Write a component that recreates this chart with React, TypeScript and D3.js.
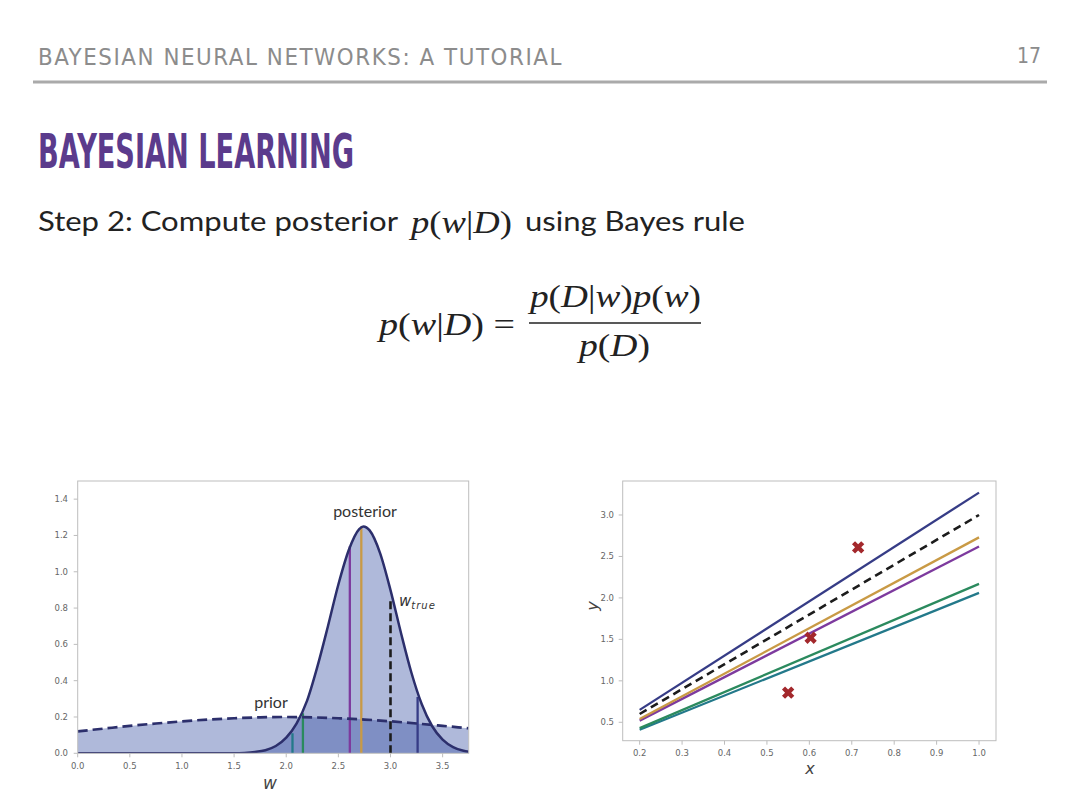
import React from "react";
import * as d3 from "d3";

// prior p(w)
const priorW = [0, 0.25, 0.5, 0.75, 1.0, 1.25, 1.5, 1.75, 2.0, 2.25, 2.5, 2.75, 3.0, 3.25, 3.5, 3.75];
const priorP = [0.121, 0.136, 0.151, 0.164, 0.176, 0.186, 0.193, 0.198, 0.2, 0.198, 0.193, 0.186, 0.176, 0.164, 0.151, 0.138];

// posterior p(w|D)
const postW = [0, 1.5, 1.6, 1.7, 1.8, 1.9, 2.0, 2.1, 2.2, 2.3, 2.4, 2.5, 2.6, 2.7, 2.74, 2.8, 2.9, 3.0, 3.1, 3.2, 3.3, 3.4, 3.5, 3.6, 3.7, 3.75];
const postP = [0, 0, 0.002, 0.007, 0.017, 0.04, 0.086, 0.165, 0.29, 0.48, 0.7, 0.93, 1.12, 1.235, 1.25, 1.228, 1.103, 0.899, 0.664, 0.445, 0.27, 0.149, 0.075, 0.034, 0.014, 0.009];

// posterior samples (vertical lines) and their regression lines
const sampleW = [2.06, 2.16, 2.61, 2.72, 3.26];
const sampleH = [0.11, 0.22, 1.14, 1.25, 0.31];
const sampleColors = ["#23798a", "#2b8a5e", "#7d3a9e", "#c99a45", "#363c86"];
const lineStart = [0.41, 0.43, 0.52, 0.54, 0.65]; // y at x = 0.2
const lineEnd = [2.06, 2.17, 2.62, 2.73, 3.27]; // y at x = 1.0

const wTrue = 3.0;
const wTrueTop = 0.86;
const trueStart = 0.6;
const trueEnd = 3.0;

// observations
const obsX = [0.55, 0.603, 0.715];
const obsY = [0.857, 1.52, 2.61];

const leftXTicks = [0, 0.5, 1.0, 1.5, 2.0, 2.5, 3.0, 3.5];
const leftYTicks = [0, 0.2, 0.4, 0.6, 0.8, 1.0, 1.2, 1.4];
const rightXTicks = [0.2, 0.3, 0.4, 0.5, 0.6, 0.7, 0.8, 0.9, 1.0];
const rightYTicks = [0.5, 1.0, 1.5, 2.0, 2.5, 3.0];

const navy = "#2c2f6c";
const fill = "rgba(55,80,162,0.4)";
const tickColor = "#666";
const frameColor = "#bdbdbd";

const L = { left: 77.7, right: 468.7, top: 481, bottom: 753.3 };
const R = { left: 622.7, right: 996, top: 481, bottom: 740.7 };

const xl = d3.scaleLinear().domain([0, 3.75]).range([L.left, L.right]);
const yl = d3.scaleLinear().domain([0, 1.5]).range([L.bottom, L.top]);
const xr = d3.scaleLinear().domain([0.16, 1.04]).range([R.left, R.right]);
const yr = d3.scaleLinear().domain([0.278, 3.41]).range([R.bottom, R.top]);

const priorPts: [number, number][] = priorW.map((w, i) => [w, priorP[i]]);
const postPts: [number, number][] = postW.map((w, i) => [w, postP[i]]);

const areaL = d3
  .area<[number, number]>()
  .x((d) => xl(d[0]))
  .y0(yl(0))
  .y1((d) => yl(d[1]))
  .curve(d3.curveMonotoneX);
const lineL = d3
  .line<[number, number]>()
  .x((d) => xl(d[0]))
  .y((d) => yl(d[1]))
  .curve(d3.curveMonotoneX);

const cross = d3.symbol().type(d3.symbolCross).size(95)();

const tickFont = { fontFamily: "DejaVu Sans", fontSize: 8.5, fill: tickColor };

function fmt(v: number) {
  return v.toFixed(1);
}

export default function App() {
  return (
    <svg
      width={1080}
      height={810}
      style={{ position: "absolute", left: 0, top: 0, background: "#fff" }}
    >
      <defs>
        <clipPath id="clipL">
          <rect x={L.left} y={L.top} width={L.right - L.left} height={L.bottom - L.top} />
        </clipPath>
        <clipPath id="clipR">
          <rect x={R.left} y={R.top} width={R.right - R.left} height={R.bottom - R.top} />
        </clipPath>
      </defs>

      {/* slide header */}
      <text
        x={38}
        y={65}
        textLength={525}
        lengthAdjust="spacingAndGlyphs"
        style={{ fontFamily: "DejaVu Sans", fontStretch: "condensed", fontSize: 23, fill: "#8c8c8c", letterSpacing: 1.5 }}
      >
        BAYESIAN NEURAL NETWORKS: A TUTORIAL
      </text>
      <text
        x={1041}
        y={63}
        textAnchor="end"
        style={{ fontFamily: "DejaVu Sans", fontStretch: "condensed", fontSize: 21, fill: "#8c8c8c" }}
      >
        17
      </text>
      <line x1={33} x2={1047} y1={82} y2={82} stroke="#aaa" strokeWidth={3} />

      <text
        x={38}
        y={168}
        textLength={316}
        lengthAdjust="spacingAndGlyphs"
        style={{ fontFamily: "Liberation Sans Narrow, DejaVu Sans", fontWeight: 700, fontSize: 48, fill: "#5b3b8c" }}
      >
        BAYESIAN LEARNING
      </text>

      <text
        x={38}
        y={231}
        textLength={360}
        lengthAdjust="spacingAndGlyphs"
        style={{ fontFamily: "Lato", fontSize: 27, fill: "#222" }}
      >
        Step 2: Compute posterior
      </text>
      <text
        x={411}
        y={233}
        textLength={101}
        lengthAdjust="spacingAndGlyphs"
        style={{ fontFamily: "Liberation Serif", fontSize: 31, fill: "#222" }}
      >
        <tspan fontStyle="italic">p</tspan>(<tspan fontStyle="italic">w</tspan>|<tspan fontStyle="italic">D</tspan>)
      </text>
      <text
        x={525}
        y={231}
        textLength={220}
        lengthAdjust="spacingAndGlyphs"
        style={{ fontFamily: "Lato", fontSize: 27, fill: "#222" }}
      >
        using Bayes rule
      </text>

      {/* Bayes rule */}
      <text
        x={379}
        y={335}
        textLength={136}
        lengthAdjust="spacingAndGlyphs"
        style={{ fontFamily: "Liberation Serif", fontSize: 32, fill: "#222" }}
      >
        <tspan fontStyle="italic">p</tspan>(<tspan fontStyle="italic">w</tspan>|<tspan fontStyle="italic">D</tspan>) =
      </text>
      <text
        x={530}
        y={307}
        textLength={171}
        lengthAdjust="spacingAndGlyphs"
        style={{ fontFamily: "Liberation Serif", fontSize: 32, fill: "#222" }}
      >
        <tspan fontStyle="italic">p</tspan>(<tspan fontStyle="italic">D</tspan>|<tspan fontStyle="italic">w</tspan>)<tspan fontStyle="italic">p</tspan>(<tspan fontStyle="italic">w</tspan>)
      </text>
      <line x1={529} x2={701} y1={323} y2={323} stroke="#222" strokeWidth={1.3} />
      <text
        x={579}
        y={356}
        textLength={71}
        lengthAdjust="spacingAndGlyphs"
        style={{ fontFamily: "Liberation Serif", fontSize: 32, fill: "#222" }}
      >
        <tspan fontStyle="italic">p</tspan>(<tspan fontStyle="italic">D</tspan>)
      </text>

      {/* ---------- left chart: prior and posterior over w ---------- */}
      <g clipPath="url(#clipL)">
        <path d={areaL(priorPts) ?? ""} fill={fill} />
        <path d={areaL(postPts) ?? ""} fill={fill} />
        {sampleW.map((w, i) => (
          <line
            key={i}
            x1={xl(w)}
            x2={xl(w)}
            y1={yl(0)}
            y2={yl(sampleH[i])}
            stroke={sampleColors[i]}
            strokeWidth={2.3}
          />
        ))}
        <line
          x1={xl(wTrue)}
          x2={xl(wTrue)}
          y1={yl(0)}
          y2={yl(wTrueTop)}
          stroke="#1c1c1c"
          strokeWidth={2.6}
          strokeDasharray="8,4"
        />
        <path d={lineL(postPts) ?? ""} fill="none" stroke={navy} strokeWidth={2.5} />
        <path d={lineL(priorPts) ?? ""} fill="none" stroke={navy} strokeWidth={2.7} strokeDasharray="10,5" />
      </g>
      <rect
        x={L.left}
        y={L.top}
        width={L.right - L.left}
        height={L.bottom - L.top}
        fill="none"
        stroke={frameColor}
      />
      {leftXTicks.map((t) => (
        <g key={t}>
          <line x1={xl(t)} x2={xl(t)} y1={L.bottom} y2={L.bottom + 4} stroke={frameColor} />
          <text x={xl(t)} y={769} textAnchor="middle" style={tickFont}>
            {fmt(t)}
          </text>
        </g>
      ))}
      {leftYTicks.map((t) => (
        <g key={t}>
          <line x1={L.left - 4} x2={L.left} y1={yl(t)} y2={yl(t)} stroke={frameColor} />
          <text x={68} y={yl(t) + 3} textAnchor="end" style={tickFont}>
            {fmt(t)}
          </text>
        </g>
      ))}
      <text x={270} y={789} textAnchor="middle" style={{ fontFamily: "DejaVu Sans", fontStyle: "italic", fontSize: 17, fill: "#444" }}>
        w
      </text>
      <text x={365} y={517} textAnchor="middle" style={{ fontFamily: "Lato", fontSize: 16, fill: "#333" }}>
        posterior
      </text>
      <text x={271} y={708} textAnchor="middle" style={{ fontFamily: "Lato", fontSize: 16, fill: "#333" }}>
        prior
      </text>
      <text x={399} y={606} style={{ fontFamily: "DejaVu Sans", fontStyle: "italic", fill: "#333" }}>
        <tspan fontSize={15}>w</tspan>
        <tspan fontSize={10} dy={3} letterSpacing={1}>true</tspan>
      </text>

      {/* ---------- right chart: sampled regression lines ---------- */}
      <g clipPath="url(#clipR)">
        {sampleW.map((w, i) => (
          <line
            key={w}
            x1={xr(0.2)}
            x2={xr(1.0)}
            y1={yr(lineStart[i])}
            y2={yr(lineEnd[i])}
            stroke={sampleColors[i]}
            strokeWidth={2.3}
          />
        ))}
        <line
          x1={xr(0.2)}
          x2={xr(1.0)}
          y1={yr(trueStart)}
          y2={yr(trueEnd)}
          stroke="#1c1c1c"
          strokeWidth={2.6}
          strokeDasharray="8,5"
        />
        {obsX.map((x, i) => (
          <path
            key={i}
            d={cross ?? ""}
            transform={`translate(${xr(x)},${yr(obsY[i])}) rotate(45)`}
            fill="#a3282c"
          />
        ))}
      </g>
      <rect
        x={R.left}
        y={R.top}
        width={R.right - R.left}
        height={R.bottom - R.top}
        fill="none"
        stroke={frameColor}
      />
      {rightXTicks.map((t) => (
        <g key={t}>
          <line x1={xr(t)} x2={xr(t)} y1={R.bottom} y2={R.bottom + 4} stroke={frameColor} />
          <text x={xr(t)} y={756} textAnchor="middle" style={tickFont}>
            {fmt(t)}
          </text>
        </g>
      ))}
      {rightYTicks.map((t) => (
        <g key={t}>
          <line x1={R.left - 4} x2={R.left} y1={yr(t)} y2={yr(t)} stroke={frameColor} />
          <text x={614} y={yr(t) + 3} textAnchor="end" style={tickFont}>
            {fmt(t)}
          </text>
        </g>
      ))}
      <text x={810} y={774} textAnchor="middle" style={{ fontFamily: "DejaVu Sans", fontStyle: "italic", fontSize: 16, fill: "#444" }}>
        x
      </text>
      <text
        transform="translate(598,606) rotate(-90)"
        textAnchor="middle"
        style={{ fontFamily: "DejaVu Sans", fontStyle: "italic", fontSize: 16, fill: "#444" }}
      >
        y
      </text>
    </svg>
  );
}
